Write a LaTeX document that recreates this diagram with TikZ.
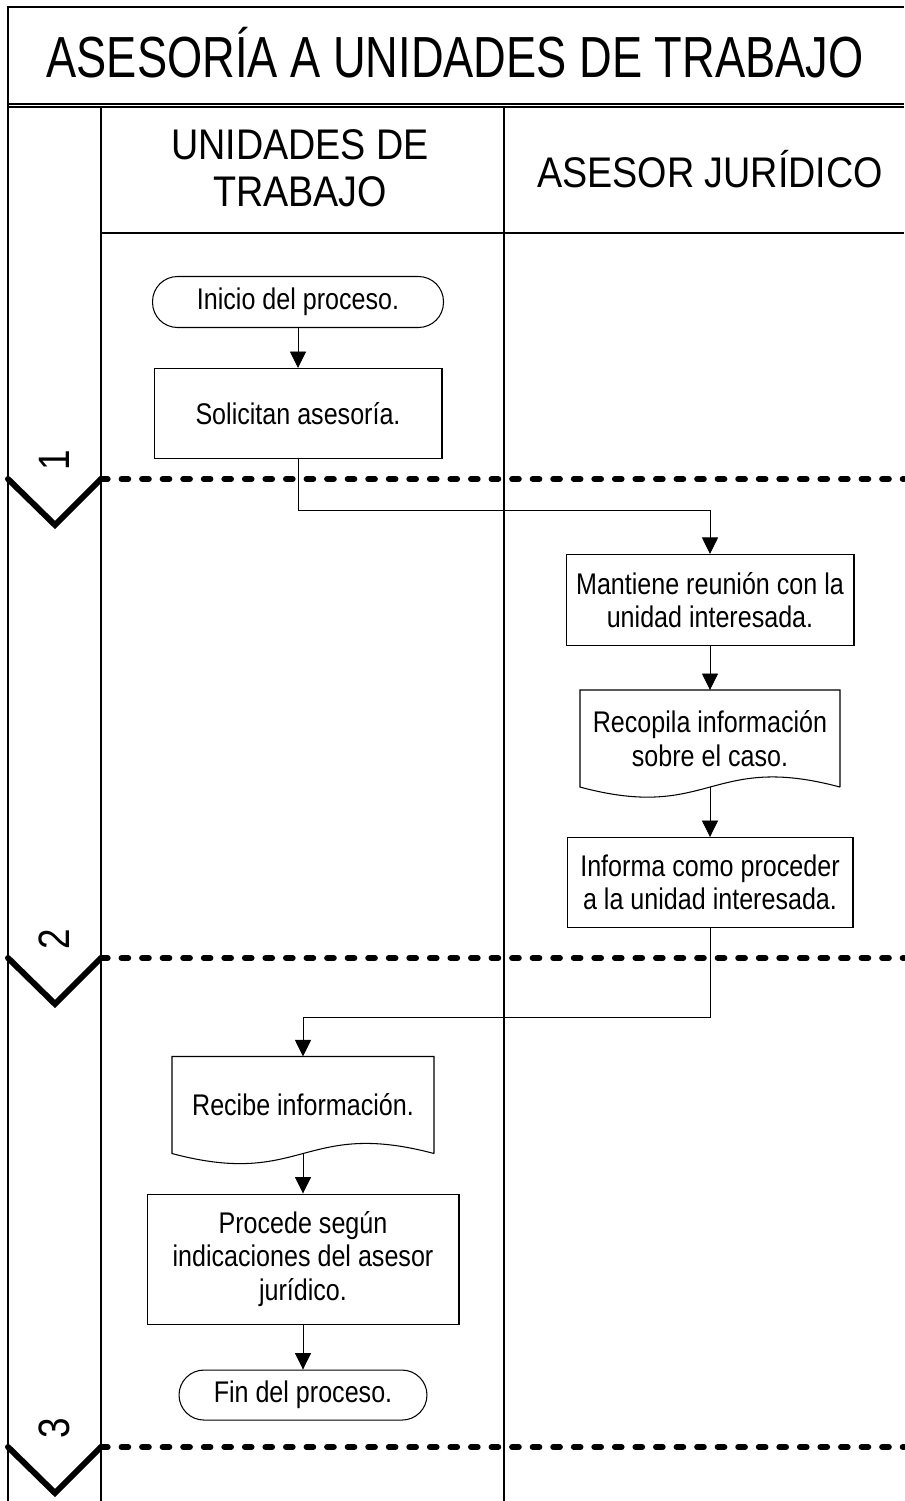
\documentclass[tikz,border=0pt]{standalone}
\usepackage{fontspec}
\setmainfont{Liberation Sans}[FakeStretch=0.84]
\newfontfamily\anchofont{Liberation Sans}[FakeStretch=0.88]
\newfontfamily\titulofont{Liberation Sans}[FakeStretch=0.78]
\usetikzlibrary{arrows.meta, positioning}

\begin{document}
\begin{tikzpicture}[
  x=0.02cm, y=-0.02cm,
  marco/.style={line width=0.7pt},
  proceso/.style={rectangle, draw, line width=0.6pt, align=center, inner sep=0pt, font=\fontsize{17}{19}\selectfont},
  terminal/.style={proceso, rounded corners=0.5cm},
  documento/.style={proceso, draw=none},
  flecha/.style={-{Triangle[length=3.3mm, width=3.2mm]}, line width=0.5pt},
  fase/.style={line width=3.4pt, line cap=round, dash pattern=on 3.8pt off 7.9pt},
  marca/.style={line width=3.4pt, line cap=round},
  numero/.style={rotate=90, font=\fontsize{25}{25}\selectfont},
  encabezado/.style={align=center, font=\anchofont\fontsize{24.4}{26.6}\selectfont}
]
\useasboundingbox (0,0) rectangle (904,1501);

\draw[marco] (904,7) -- (8,7) -- (8,1501);
\draw[marco] (8,104) -- (904,104) (8,107) -- (904,107);
\draw[marco] (101,107) -- (101,1501) (504,107) -- (504,1501) (101,233) -- (904,233);

\node[anchor=base, font=\titulofont\fontsize{33}{33}\selectfont] (titulo) at (455,77) {ASESORÍA A UNIDADES DE TRABAJO};
\node[encabezado] (unidades) at (300,168) {UNIDADES DE\\TRABAJO};
\node[encabezado, anchor=base] (asesor) at (710,187) {ASESOR JURÍDICO};

\foreach \l/\n in {479/1, 958/2, 1447/3} {
  \draw[marca] (8,\l) -- (55,\l+46) -- (101,\l);
  \draw[fase] (101,\l) -- (904,\l);
  \node[numero] (f\n) at (54,\l-19) {\n};
}

\node[terminal, minimum width=5.82cm, minimum height=1.02cm] (inicio) at (298,302) {Inicio del proceso.};
\node[proceso, minimum width=5.76cm, minimum height=1.8cm, below=8mm of inicio] (solicitan) {Solicitan asesoría.};
\node[proceso, minimum width=5.76cm, minimum height=1.82cm] (mantiene) at (710,600) {Mantiene reunión con la\\unidad interesada.};
\node[documento, minimum width=5.18cm, minimum height=1.92cm, below=8.8mm of mantiene] (recopila) {Recopila información\\sobre el caso.};
\node[proceso, minimum width=5.72cm, minimum height=1.8cm, below=1cm of recopila] (informa) {Informa como proceder\\a la unidad interesada.};
\node[documento, minimum width=5.22cm, minimum height=1.92cm] (recibe) at (303,1105) {Recibe información.};
\node[proceso, minimum width=6.24cm, minimum height=2.6cm, below=8mm of recibe] (procede) {Procede según\\indicaciones del asesor\\jurídico.};
\node[terminal, minimum width=4.96cm, minimum height=1cm, below=9mm of procede] (fin) {Fin del proceso.};

\foreach \d in {recopila, recibe}
  \draw[line width=0.6pt] (\d.south east) -- (\d.north east) -- (\d.north west) -- (\d.south west)
    .. controls ([yshift=-0.7cm]\d.south) and ([yshift=0.7cm]\d.south) .. (\d.south east);

\draw[flecha] (inicio) -- (solicitan);
\draw[flecha] (solicitan.south) -- ++(0,-1.02cm) -| (mantiene.north);
\draw[flecha] (mantiene) -- (recopila);
\draw[flecha] (recopila.south) -- (informa.north);
\draw[flecha] (informa.south) -- ++(0,-1.78cm) -| (recibe.north);
\draw[flecha] (recibe.south) -- (procede.north);
\draw[flecha] (procede) -- (fin);
\end{tikzpicture}
\end{document}
